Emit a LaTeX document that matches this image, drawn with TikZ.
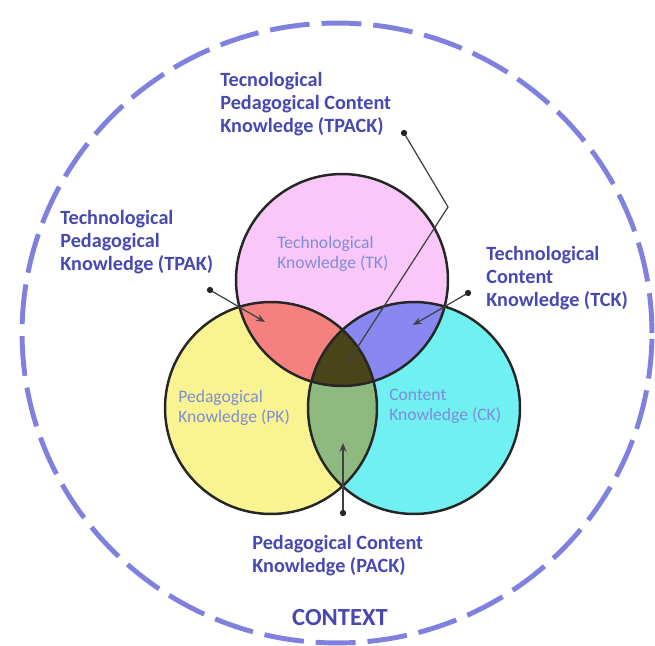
\documentclass[tikz,border=0pt]{standalone}
\usepackage{fontspec}
\setmainfont{Carlito}
\usepackage{tikz}
\usetikzlibrary{arrows.meta}
\definecolor{labelblue}{RGB}{72,72,178}
\definecolor{softblue}{RGB}{128,140,214}
\definecolor{ringblue}{RGB}{128,128,222}
\definecolor{tkpink}{RGB}{249,200,249}
\definecolor{pkyellow}{RGB}{249,243,145}
\definecolor{ckcyan}{RGB}{112,240,240}
\definecolor{tpakred}{RGB}{245,128,128}
\definecolor{tckblue}{RGB}{136,136,240}
\definecolor{packgreen}{RGB}{142,186,128}
\definecolor{tpackolive}{RGB}{74,69,24}
\tikzstyle{outerlabel}=[text=labelblue,font=\fontsize{11.5}{13}\selectfont\bfseries,align=left,anchor=west,inner sep=0pt]
\tikzstyle{innerlabel}=[text=softblue,font=\fontsize{10}{11.5}\selectfont,align=left,anchor=west,inner sep=0pt]
\tikzstyle{ring}=[draw=black!85,line width=1.4pt]
\tikzstyle{pointer}=[draw=black!75,line width=0.7pt,-{Stealth[length=5pt,width=4pt]}]
\tikzstyle{pin}=[fill=black!85]

\begin{document}
\begin{tikzpicture}[x=0.02cm,y=-0.02cm]

\useasboundingbox (0,0) rectangle (655,645);

% circle centres
\coordinate (TK) at (342,280);
\coordinate (PK) at (271,408);
\coordinate (CK) at (414,408);

% context ring
\draw[ringblue,line width=2.8pt,dash pattern=on 22.7pt off 6.8pt] (337,333) ellipse [x radius=6.3cm,y radius=6.2cm];

% the three sets
\fill[tkpink] (TK) circle [radius=2.12cm];
\fill[pkyellow] (PK) circle [radius=2.12cm];
\fill[ckcyan] (CK) circle [radius=2.12cm];

\begin{scope}
 \clip (TK) circle [radius=2.12cm];
 \fill[tpakred] (PK) circle [radius=2.12cm];
 \fill[tckblue] (CK) circle [radius=2.12cm];
\end{scope}
\begin{scope}
 \clip (PK) circle [radius=2.12cm];
 \fill[packgreen] (CK) circle [radius=2.12cm];
 \clip (CK) circle [radius=2.12cm];
 \fill[tpackolive] (TK) circle [radius=2.12cm];
\end{scope}

\draw[ring] (TK) circle [radius=2.12cm];
\draw[ring] (PK) circle [radius=2.12cm];
\draw[ring] (CK) circle [radius=2.12cm];

% set names
\node at (277,254) [innerlabel] (tklabel) {Technological\\Knowledge (TK)};
\node at (178,408) [innerlabel] (pklabel) {Pedagogical\\Knowledge (PK)};
\node at (389,406) [innerlabel] (cklabel) {Content\\Knowledge (CK)};

% overlap names
\node at (220,104) [outerlabel] (tpack) {Tecnological\\Pedagogical Content\\Knowledge (TPACK)};
\node at (60,242) [outerlabel] (tpak) {Technological\\Pedagogical\\Knowledge (TPAK)};
\node at (486,278) [outerlabel] (tck) {Technological\\Content\\Knowledge (TCK)};
\node at (252,556) [outerlabel] (pack) {Pedagogical Content\\Knowledge (PACK)};
\node at (340,618) [text=labelblue,font=\fontsize{14}{16}\selectfont\bfseries,inner sep=0pt] (context) {CONTEXT};

% pointers
\coordinate (tpackdot) at (404,133);
\coordinate (tpackbend) at (448,207);
\coordinate (tpacktip) at (348,362);
\coordinate (tpakdot) at (210,290);
\coordinate (tpaktip) at (265,322);
\coordinate (tckdot) at (468,293);
\coordinate (tcktip) at (413,325);
\coordinate (packdot) at (343,513);
\coordinate (packtip) at (343,443);

\draw[pointer] (tpackdot) -- (tpackbend) -- (tpacktip);
\draw[pointer] (tpakdot) -- (tpaktip);
\draw[pointer] (tckdot) -- (tcktip);
\draw[pointer] (packdot) -- (packtip);

\foreach \d in {tpackdot,tpakdot,tckdot,packdot}
  \fill[pin] (\d) circle [radius=1.8pt];

\end{tikzpicture}
\end{document}
